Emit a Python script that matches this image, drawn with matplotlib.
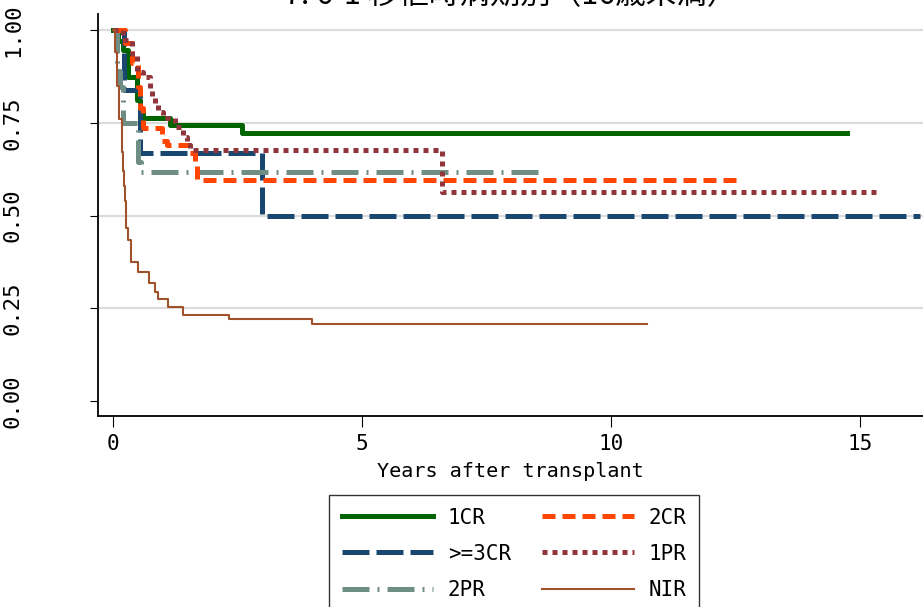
import matplotlib
matplotlib.use("Agg")
import matplotlib.pyplot as plt

# survival estimates (years, proportion)
t_1cr = [0, 0.1, 0.2, 0.3, 0.48, 0.54, 0.6, 1.15, 2.6, 14.75]
s_1cr = [1.0, 0.97, 0.946, 0.873, 0.81, 0.784, 0.763, 0.745, 0.722, 0.722]

t_2cr = [0, 0.25, 0.38, 0.5, 0.54, 0.6, 0.98, 1.08, 1.55, 1.65, 1.69, 12.6]
s_2cr = [1.0, 0.965, 0.91, 0.846, 0.79, 0.736, 0.70, 0.69, 0.668, 0.64, 0.596, 0.596]

t_3cr = [0, 0.22, 0.54, 3.0, 16.2]
s_3cr = [1.0, 0.838, 0.668, 0.5, 0.5]

t_1pr = [0, 0.2, 0.38, 0.48, 0.6, 0.74, 0.78, 0.84, 0.9, 1.0, 1.25, 1.4, 1.49, 1.55, 6.6, 15.35]
s_1pr = [1.0, 0.973, 0.93, 0.887, 0.873, 0.838, 0.817, 0.798, 0.779, 0.763, 0.739, 0.712, 0.69, 0.677, 0.563, 0.563]

t_2pr = [0, 0.08, 0.15, 0.2, 0.5, 0.56, 8.67]
s_2pr = [1.0, 0.89, 0.845, 0.75, 0.645, 0.617, 0.617]

t_nir = [0, 0.05, 0.08, 0.12, 0.18, 0.2, 0.22, 0.24, 0.26, 0.3, 0.36, 0.5, 0.72, 0.84, 0.9, 1.1, 1.4, 2.33, 4.0, 10.72]
s_nir = [1.0, 0.94, 0.85, 0.76, 0.67, 0.62, 0.58, 0.54, 0.466, 0.434, 0.375, 0.348, 0.318, 0.294, 0.275, 0.253, 0.232, 0.221, 0.208, 0.208]

xticks = [0, 5, 10, 15]
yticks = [0, 0.25, 0.5, 0.75, 1.0]
ytick_labels = ["0.00", "0.25", "0.50", "0.75", "1.00"]

mono = "DejaVu Sans Mono"

fig = plt.figure(figsize=(9.23, 6.07), dpi=100)
ax = fig.add_axes([98 / 923, 1 - 416 / 607, 1 - 98 / 923, (416 - 14) / 607])

for y in yticks[1:]:
    ax.axhline(y, color="#dcdcdc", lw=1.6, zorder=0)

ax.step(t_1cr, s_1cr, where="post", color="#006400", lw=3.6, label="1CR")
ax.step(t_3cr, s_3cr, where="post", color="#1a476f", lw=3.6, dashes=(5.4, 1.4), label=">=3CR")
ax.step(t_2pr, s_2pr, where="post", color="#6e8e84", lw=3.6, dashes=(5.4, 1.6, 0.4, 1.6), label="2PR")
ax.step(t_2cr, s_2cr, where="post", color="#ff4500", lw=3.6, dashes=(2.6, 1.4), label="2CR")
ax.step(t_1pr, s_1pr, where="post", color="#90353b", lw=3.6, dashes=(1, 1), label="1PR")
ax.step(t_nir, s_nir, where="post", color="#a0522d", lw=1.5, label="NIR")

ax.set_xlim(-0.3, 16.27)
ax.set_ylim(-0.04, 1.043)
ax.set_xticks(xticks)
ax.set_xticklabels([str(v) for v in xticks], fontfamily=mono, fontsize=15)
ax.set_yticks(yticks)
ax.set_yticklabels(ytick_labels, fontfamily=mono, fontsize=16, rotation=90, va="center")
ax.tick_params(axis="y", length=6, pad=48)
ax.tick_params(axis="x", length=8, pad=5)
for side in ["top", "right"]:
    ax.spines[side].set_visible(False)
ax.spines["left"].set_linewidth(1.3)
ax.spines["bottom"].set_linewidth(1.3)

ax.set_xlabel("Years after transplant", fontfamily=mono, fontsize=14.5, labelpad=6)

# title sits partly above the canvas, as in the reference
fig.text(511 / 923, 1 - 11 / 607, "7. 6-1 移植時病期別（16歳未満）",
         ha="center", va="bottom", fontsize=22,
         family=["Noto Sans CJK JP", "DejaVu Sans"])

leg = fig.legend(loc="upper center", bbox_to_anchor=(514 / 923, 1 - 495 / 607),
                 borderaxespad=0, ncol=2, frameon=True, fancybox=False,
                 prop={"family": mono, "size": 15},
                 handlelength=4.4, handletextpad=0.7, columnspacing=1.5,
                 labelspacing=0.78, borderpad=0.6)
leg.get_frame().set_edgecolor("black")
leg.get_frame().set_linewidth(1.0)

fig.savefig("out.png", dpi=100)
